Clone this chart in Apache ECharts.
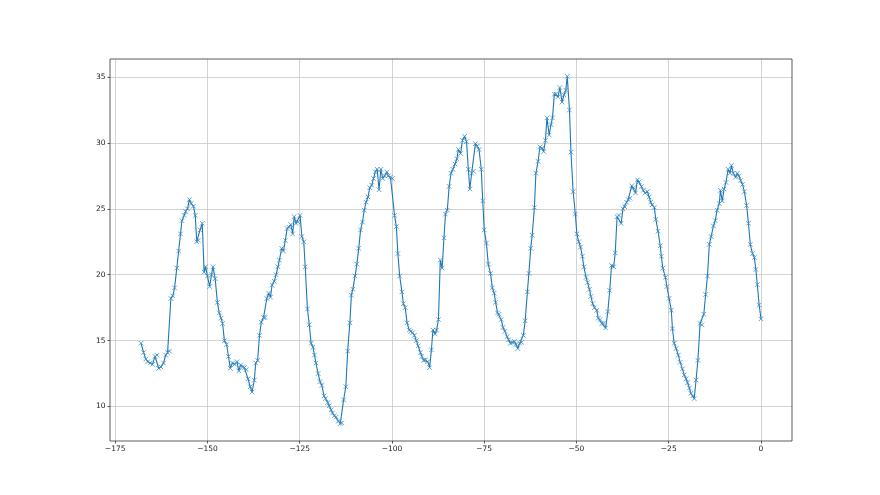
<!DOCTYPE html>
<html>
<head>
<meta charset="utf-8">
<script src="https://cdn.jsdelivr.net/npm/echarts@6/dist/echarts.min.js"></script>
<style>html,body{margin:0;padding:0;background:#fff}#c{width:880px;height:495px}</style>
</head>
<body>
<div id="c"></div>
<script>
// Hours relative to now (x) and readings (y)
const hours = [
-168.0,-167.3,-166.7,-166.2,-165.5,-164.9,-164.2,-163.7,-163.2,-162.6,-161.9,-161.3,-160.8,-160.3,-159.9,-159.4,-158.9,-158.3,-157.8,-157.3,
-156.9,-156.3,-155.9,-155.4,-154.9,-154.4,-153.8,-153.3,-152.9,-152.5,-152.0,-151.4,-150.9,-150.5,-150.0,-149.4,-148.9,-148.5,-147.9,-147.3,
-146.8,-146.3,-145.9,-145.4,-144.8,-144.3,-143.8,-143.2,-142.6,-142.0,-141.5,-141.0,-140.5,-140.0,-139.5,-139.0,-138.4,-137.9,-137.3,-136.9,
-136.4,-135.9,-135.4,-134.8,-134.4,-133.9,-133.4,-132.9,-132.5,-131.9,-131.4,-130.9,-130.5,-129.9,-129.4,-128.9,-128.4,-127.9,-127.4,-126.9,
-126.5,-126.0,-125.5,-124.9,-124.4,-123.9,-123.5,-122.9,-122.4,-121.9,-121.4,-121.0,-120.6,-120.0,-119.5,-119.0,-118.4,-118.0,-117.4,-117.0,
-116.5,-116.1,-115.6,-115.1,-114.5,-114.0,-113.6,-113.1,-112.5,-112.0,-111.4,-111.0,-110.6,-110.0,-109.5,-109.0,-108.5,-108.0,-107.5,-107.0,
-106.5,-106.0,-105.5,-105.0,-104.5,-104.0,-103.5,-103.0,-102.5,-102.0,-101.4,-101.0,-100.4,-99.9,-99.3,-98.8,-98.4,-97.9,-97.3,-96.9,
-96.4,-95.9,-95.3,-94.9,-94.4,-93.9,-93.4,-92.9,-92.3,-91.9,-91.4,-90.9,-90.3,-89.8,-89.3,-88.9,-88.3,-87.9,-87.4,-86.9,
-86.4,-85.9,-85.5,-85.0,-84.5,-84.0,-83.5,-82.9,-82.4,-82.0,-81.4,-80.9,-80.3,-79.8,-79.3,-78.9,-78.4,-77.9,-77.4,-76.9,
-76.4,-75.8,-75.4,-75.0,-74.4,-73.9,-73.3,-72.8,-72.3,-71.9,-71.4,-71.0,-70.4,-69.9,-69.4,-68.8,-68.4,-67.9,-67.4,-66.8,
-66.4,-65.9,-65.4,-64.9,-64.4,-63.9,-63.3,-62.9,-62.4,-62.0,-61.4,-61.0,-60.4,-59.9,-59.3,-58.9,-58.4,-58.0,-57.4,-56.9,
-56.5,-56.0,-55.5,-55.0,-54.5,-53.9,-53.4,-52.9,-52.5,-51.9,-51.5,-50.9,-50.3,-49.9,-49.4,-48.9,-48.4,-48.0,-47.4,-47.0,
-46.5,-46.1,-45.6,-45.1,-44.5,-44.1,-43.6,-43.1,-42.6,-42.1,-41.5,-41.0,-40.5,-39.9,-39.5,-39.0,-38.5,-37.9,-37.4,-36.9,
-36.4,-36.0,-35.5,-35.0,-34.5,-34.0,-33.5,-33.0,-32.4,-31.9,-31.4,-30.8,-30.3,-29.9,-29.5,-28.9,-28.5,-27.9,-27.3,-27.0,
-26.6,-25.9,-25.5,-24.9,-24.3,-24.0,-23.5,-23.0,-22.4,-21.9,-21.3,-20.8,-20.3,-19.9,-19.4,-19.0,-18.5,-18.1,-17.6,-17.1,
-16.5,-16.0,-15.5,-15.0,-14.5,-14.0,-13.5,-12.9,-12.4,-11.9,-11.3,-11.0,-10.5,-10.0,-9.5,-8.9,-8.4,-8.0,-7.5,-6.9,
-6.4,-6.0,-5.5,-5.0,-4.5,-3.9,-3.4,-2.9,-2.3,-1.8,-1.4,-1.0,-0.5,0.0
];
const temps = [
14.8,14.1,13.6,13.4,13.3,13.2,13.8,13.9,12.9,13.0,13.3,13.9,14.1,14.2,18.2,18.4,19.0,20.5,21.8,23.1,
24.1,24.5,24.8,25.0,25.7,25.4,25.2,24.5,22.5,22.6,23.4,23.9,20.2,20.6,19.9,19.1,20.0,20.6,19.7,17.9,
17.1,16.7,16.3,15.0,14.7,13.8,12.9,13.3,13.2,13.4,12.7,13.15,13.0,12.95,12.8,12.1,11.5,11.1,12.0,13.3,
13.5,15.4,16.4,16.75,16.75,18.2,18.6,18.3,19.2,19.5,20.0,20.6,21.1,22.0,21.8,22.6,23.5,23.6,23.8,23.1,
24.4,23.9,24.0,24.5,22.9,22.5,20.6,17.4,16.2,14.8,14.5,13.9,13.3,12.5,11.9,11.6,10.8,10.6,10.3,10.05,
9.75,9.5,9.3,9.2,8.9,8.7,8.75,10.5,11.5,14.2,16.35,18.45,18.9,19.9,20.8,22.0,23.4,24.0,24.9,25.5,
25.9,26.6,26.8,27.3,27.8,28.0,26.45,28.0,27.3,27.5,27.8,27.5,27.4,27.3,24.5,23.65,21.6,19.9,18.7,17.8,
17.5,16.35,15.8,15.7,15.6,15.4,15.0,14.6,14.1,13.8,13.5,13.55,13.4,12.95,14.3,15.8,15.5,15.8,16.6,21.1,
20.5,22.8,24.6,24.9,26.7,27.7,28.0,28.4,28.8,29.5,29.2,30.2,30.5,30.1,28.0,26.5,27.7,27.85,29.95,29.75,
29.5,28.0,25.6,23.4,22.4,20.8,20.1,19.0,18.6,17.9,17.1,17.0,16.6,16.0,15.7,15.3,15.06,14.8,14.86,14.94,
14.7,14.4,14.8,14.86,15.4,16.5,18.7,20.1,22.0,23.0,25.1,27.7,28.6,29.7,29.6,29.35,30.2,31.9,30.6,31.4,
31.9,33.7,33.7,33.5,34.2,33.1,33.65,34.0,35.05,32.5,29.3,26.3,24.6,23.1,22.5,22.1,21.4,20.6,19.8,19.4,
18.9,18.35,17.8,17.5,17.3,16.7,16.6,16.3,16.3,15.96,17.2,18.8,20.7,20.6,21.65,24.4,24.5,23.9,25.0,25.15,
25.5,25.7,25.8,26.75,26.6,26.2,27.2,27.05,26.7,26.4,26.2,26.3,25.9,25.5,25.3,25.1,24.2,23.3,22.2,21.4,
20.5,19.8,19.1,18.2,17.3,15.9,14.8,14.4,13.9,13.35,12.85,12.4,12.1,11.8,11.4,11.0,10.8,10.6,12.0,13.5,
16.3,16.2,17.0,18.5,19.9,22.3,22.9,23.7,24.1,24.9,25.4,26.4,25.6,26.5,27.0,28.0,27.7,28.3,27.7,27.4,
27.7,27.5,27.15,26.85,26.3,25.25,23.9,22.3,21.6,21.3,20.4,19.25,17.7,16.65
];
const xTicks = [-175, -150, -125, -100, -75, -50, -25, 0];
const yTicks = [10, 15, 20, 25, 30, 35];

// layout (plot box in pixels)
const plot = { left: 110, top: 59, width: 682, height: 382 };

// matplotlib-style 5% data margins
const xLo = Math.min(...hours), xHi = Math.max(...hours);
const yLo = Math.min(...temps), yHi = Math.max(...temps);
const xMin = xLo - 0.05 * (xHi - xLo), xMax = xHi + 0.05 * (xHi - xLo);
const yMin = yLo - 0.05 * (yHi - yLo), yMax = yHi + 0.05 * (yHi - yLo);

const xPx = v => plot.left + (v - xMin) / (xMax - xMin) * plot.width;
const yPx = v => plot.top + (yMax - v) / (yMax - yMin) * plot.height;

const xT0 = xTicks[0], xT1 = xTicks[xTicks.length - 1];
const yT0 = yTicks[0], yT1 = yTicks[yTicks.length - 1];

const minusFmt = v => String(v).replace('-', '\u2212');
const labelStyle = { fontFamily: 'DejaVu Sans', fontSize: 7.5, color: '#222' };
const gridLine = { show: true, lineStyle: { color: '#c8c8c8', width: 0.8 } };

const chart = echarts.init(document.getElementById('c'), null, { renderer: 'canvas' });
chart.setOption({
  animation: false,
  backgroundColor: '#fff',
  grid: [
    { left: plot.left, top: plot.top, width: plot.width, height: plot.height,
      show: true, borderColor: '#333', borderWidth: 0.8, backgroundColor: 'transparent', z: 3 },
    { left: xPx(xT0), width: xPx(xT1) - xPx(xT0), top: plot.top, height: plot.height, show: false },
    { left: plot.left, width: plot.width, top: yPx(yT1), height: yPx(yT0) - yPx(yT1), show: false }
  ],
  xAxis: [
    { type: 'value', gridIndex: 0, min: xMin, max: xMax, show: false },
    { type: 'value', gridIndex: 1, min: xT0, max: xT1, interval: xTicks[1] - xTicks[0],
      axisLine: { show: false },
      axisTick: { show: true, inside: false, length: 2.5, lineStyle: { color: '#333', width: 0.8 } },
      axisLabel: Object.assign({ margin: 4, formatter: minusFmt }, labelStyle),
      splitLine: gridLine },
    { type: 'value', gridIndex: 2, min: 0, max: 1, show: false }
  ],
  yAxis: [
    { type: 'value', gridIndex: 0, min: yMin, max: yMax, show: false },
    { type: 'value', gridIndex: 1, min: 0, max: 1, show: false },
    { type: 'value', gridIndex: 2, min: yT0, max: yT1, interval: yTicks[1] - yTicks[0],
      axisLine: { show: false },
      axisTick: { show: true, inside: false, length: 2.5, lineStyle: { color: '#333', width: 0.8 } },
      axisLabel: Object.assign({ margin: 4.5, formatter: minusFmt }, labelStyle),
      splitLine: gridLine }
  ],
  series: [{
    type: 'line',
    xAxisIndex: 0, yAxisIndex: 0,
    data: hours.map((h, i) => [h, temps[i]]),
    symbol: 'path://M0,0L10,10M10,0L0,10',
    symbolSize: 4.5,
    showAllSymbol: true,
    itemStyle: { color: 'rgba(0,0,0,0)', borderColor: '#3a8ac4', borderWidth: 0.8 },
    lineStyle: { color: '#1f77b4', width: 1.1 },
    emphasis: { disabled: true },
    z: 5
  }]
});
</script>
</body>
</html>
